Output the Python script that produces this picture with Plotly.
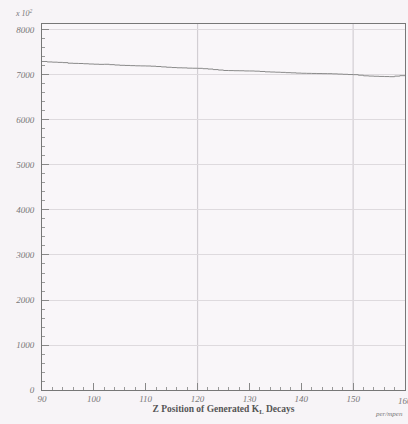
import plotly.graph_objects as go

# Data
z_pos = list(range(90, 161))
counts = [7300, 7290, 7285, 7280, 7275, 7262, 7258, 7255, 7250, 7244,
          7240, 7236, 7238, 7230, 7222, 7215, 7212, 7208, 7204, 7202,
          7200, 7195, 7188, 7180, 7172, 7165, 7160, 7158, 7152, 7150,
          7148, 7140, 7132, 7120, 7110, 7100, 7098, 7095, 7094, 7090,
          7089, 7085, 7078, 7070, 7066, 7062, 7058, 7052, 7048, 7042,
          7038, 7036, 7034, 7032, 7030, 7029, 7025, 7020, 7015, 7010,
          7007, 6995, 6982, 6976, 6972, 6968, 6965, 6962, 6975, 6985, 6980]
x_ticks = [90, 100, 110, 120, 130, 140, 150, 160]
y_ticks = [0, 1000, 2000, 3000, 4000, 5000, 6000, 7000, 8000]
x_grid = [120, 150]

serif = "Liberation Serif"
tick_font = dict(family=serif, size=9, style="italic", color="#777")
fig = go.Figure()
fig.add_trace(go.Scatter(x=z_pos, y=counts, mode="lines", line_shape="hv",
                         line=dict(color="#8a8a8a", width=1), showlegend=False,
                         hoverinfo="skip"))

for gx in x_grid:
    fig.add_shape(type="line", xref="x", yref="paper", x0=gx, x1=gx, y0=0, y1=1,
                  line=dict(color="#d2ced3", width=1.2), layer="below")

fig.update_layout(
    width=408, height=424,
    margin=dict(l=42, r=3, t=24, b=34, autoexpand=False),
    paper_bgcolor="#f7f4f7", plot_bgcolor="#f9f6f9",
    font=dict(family=serif, color="#666"),
    xaxis=dict(range=[90, 160], tickvals=x_ticks, ticktext=[str(v) for v in x_ticks],
               showgrid=False, zeroline=False, showline=True, mirror=True,
               linecolor="#777", linewidth=1, ticks="inside", ticklen=7,
               tickcolor="#888", automargin=False,
               minor=dict(dtick=2, ticks="inside", ticklen=3, tickcolor="#999"),
               tickfont=tick_font,
               title=dict(text="<b>Z Position of Generated K<sub>L</sub> Decays</b>",
                          font=dict(family=serif, size=9.5, color="#555"), standoff=2)),
    yaxis=dict(range=[0, 8133], tickvals=y_ticks, ticktext=[str(v) for v in y_ticks],
               showgrid=True, gridcolor="#dedade", gridwidth=1, zeroline=False,
               showline=True, mirror=True, linecolor="#777", linewidth=1,
               ticks="inside", ticklen=7, tickcolor="#888", automargin=False,
               ticklabelstandoff=5,
               minor=dict(dtick=200, ticks="inside", ticklen=3, tickcolor="#999"),
               tickfont=tick_font),
    annotations=[
        dict(text="x 10<sup>2</sup>", xref="paper", yref="paper", x=-0.05, y=1.01,
             xanchor="center", yanchor="bottom", showarrow=False,
             font=dict(family=serif, size=8, style="italic", color="#777")),
        dict(text=str(x_ticks[-1]), xref="x", yref="paper", x=x_ticks[-1], y=-0.012,
             xanchor="center", yanchor="top", showarrow=False, font=tick_font),
        dict(text="per/mpen", xref="paper", yref="paper", x=1.0, y=-0.05,
             xanchor="right", yanchor="top", showarrow=False,
             font=dict(family=serif, size=7, style="italic", color="#777")),
    ],
)
fig.write_html("out.html", config={"displayModeBar": False},
               post_script="document.body.style.margin='0';")
